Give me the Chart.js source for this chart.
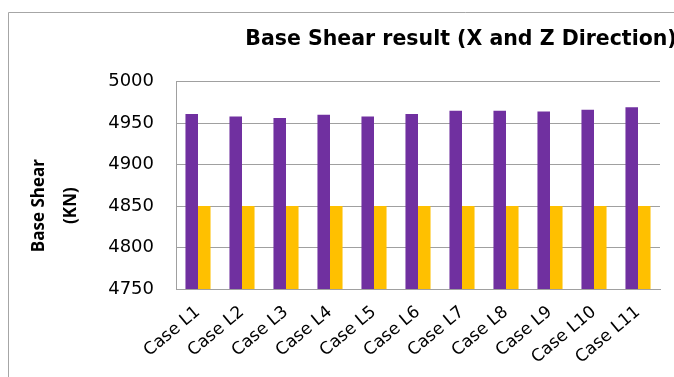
<!DOCTYPE html>
<html>
<head>
<meta charset="utf-8">
<title>Base Shear result</title>
<script src="https://cdn.jsdelivr.net/npm/chart.js@4.4.0/dist/chart.umd.min.js"></script>
<style>
  html, body { margin: 0; padding: 0; background: #fff; overflow: hidden; }
  #chartBox { position: absolute; left: 0; top: 0; width: 674px; height: 377px; overflow: hidden; }
  #chartBox canvas { display: block; }
</style>
</head>
<body>
<div id="chartBox"><canvas id="shearChart" width="922" height="377"></canvas></div>
<script>
const cases = ['Case L1', 'Case L2', 'Case L3', 'Case L4', 'Case L5', 'Case L6',
               'Case L7', 'Case L8', 'Case L9', 'Case L10', 'Case L11'];
const xDirection = [4961, 4958, 4956, 4960, 4958, 4961, 4965, 4965, 4964, 4966, 4969];
const zDirection = [4850, 4850, 4850, 4850, 4850, 4850, 4850, 4850, 4850, 4850, 4850];
const yTicks = [4750, 4800, 4850, 4900, 4950, 5000];
const chartTitle = 'Base Shear result (X and Z Direction)';
const axisTitle = ['Base Shear', '(KN)'];

const WIDE_FONT = '"DejaVu Sans", sans-serif';
const NARROW_FONT = '"Open Sans", sans-serif';
const gridColor = '#a0a0a0';
const frameColor = '#a6a6a6';

// plot box inside the canvas; the title is centred on the whole (wider) canvas
const canvas = document.getElementById('shearChart');
const frameLeft = 8.5, frameTop = 12.5;
const plotLeft = 176, plotRight = 660, plotBottom = 289;

const framePlugin = {
  id: 'frameTitles',
  // stretch the title box over the full canvas, not just up to the plot
  afterLayout(chart) {
    const t = chart.titleBlock;
    t.right = chart.width;
    t.width = chart.width - t.left;
  },
  // outer chart frame: only its left and top edges fall inside the page
  beforeDraw(chart) {
    const ctx = chart.ctx;
    ctx.save();
    ctx.strokeStyle = frameColor;
    ctx.lineWidth = 1;
    ctx.beginPath();
    ctx.moveTo(frameLeft, chart.height);
    ctx.lineTo(frameLeft, frameTop);
    ctx.lineTo(chart.width, frameTop);
    ctx.stroke();
    ctx.restore();
  },
  // two-line rotated y axis title
  afterDraw(chart) {
    const { ctx, chartArea } = chart;
    ctx.save();
    ctx.font = 'bold 17px ' + NARROW_FONT;
    ctx.fillStyle = '#000';
    ctx.textAlign = 'center';
    ctx.textBaseline = 'middle';
    ctx.translate(0, chartArea.top + 124);
    ctx.rotate(-Math.PI / 2);
    axisTitle.forEach((line, i) => ctx.fillText(line, 0, 39 + i * 32));
    ctx.restore();
  }
};

new Chart(canvas, {
  type: 'bar',
  data: {
    labels: cases,
    datasets: [{
      label: 'X Direction',
      data: xDirection,
      backgroundColor: '#7030A0'
    }, {
      label: 'Z Direction',
      data: zDirection,
      backgroundColor: '#FFC000'
    }]
  },
  options: {
    responsive: false,
    devicePixelRatio: 1,
    animation: false,
    categoryPercentage: 0.57,
    barPercentage: 1.0,
    layout: {
      padding: { left: 0, top: 0, right: canvas.width - plotRight, bottom: 0 }
    },
    plugins: {
      legend: { display: false },
      tooltip: { enabled: false },
      title: {
        display: true,
        text: chartTitle,
        color: '#000',
        font: { family: WIDE_FONT, size: 20.5, weight: 'bold' },
        padding: { top: 27, bottom: 30 }
      }
    },
    scales: {
      x: {
        grid: { display: false },
        border: { display: true, color: gridColor },
        ticks: {
          color: '#000',
          font: { family: WIDE_FONT, size: 17 },
          minRotation: 40,
          maxRotation: 40,
          padding: 5
        },
        afterFit: s => { s.height = canvas.height - plotBottom; }
      },
      y: {
        min: 4750,
        max: 5000,
        afterBuildTicks: s => { s.ticks = yTicks.map(v => ({ value: v })); },
        grid: { color: gridColor, drawTicks: false },
        border: { display: true, color: gridColor },
        ticks: {
          color: '#000',
          font: { family: WIDE_FONT, size: 18 },
          padding: 22,
          callback: v => String(v)
        },
        afterFit: s => { s.width = plotLeft; }
      }
    }
  },
  plugins: [framePlugin]
});
</script>
</body>
</html>
